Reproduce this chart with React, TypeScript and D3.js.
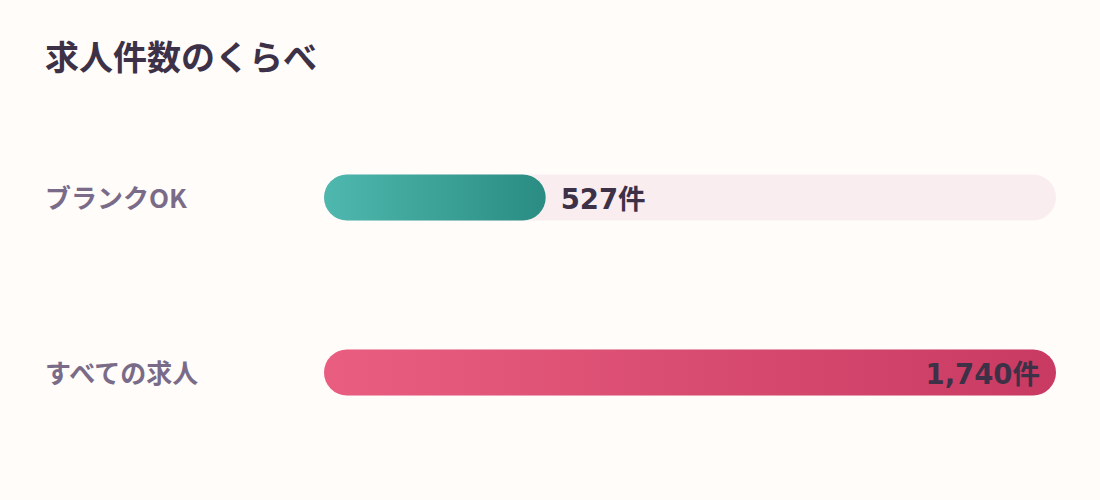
import React from "react";
import * as d3 from "d3";

const categories = ["ブランクOK", "すべての求人"];
const values = [527, 1740];
const title = "求人件数のくらべ";

const W = 1100, H = 500;
const CJK = "'Noto Sans CJK JP', 'Noto Sans', sans-serif";
const NUM = "'DejaVu Sans', 'Noto Sans CJK JP', sans-serif";

export default function App() {
  const x = d3.scaleLinear().domain([0, d3.max(values) as number]).range([324, 1056]);
  const y = d3.scaleBand<string>().domain(categories).range([110, 460]).paddingInner(0.74).paddingOuter(0.37);
  const bh = 46;
  const fmt = d3.format(",");
  const grads = [
    { id: "g0", from: "#4fb8ae", to: "#2a8c82" },
    { id: "g1", from: "#e95e80", to: "#c93a62" },
  ];
  return (
    <svg width={W} height={H} style={{ display: "block", position: "absolute", left: 0, top: 0 }}>
      <defs>
        {grads.map((g) => (
          <linearGradient key={g.id} id={g.id} x1="0" x2="1" y1="0" y2="0">
            <stop offset="0%" stopColor={g.from} />
            <stop offset="100%" stopColor={g.to} />
          </linearGradient>
        ))}
      </defs>
      <rect width={W} height={H} fill="#fffcfa" />
      <text x={45} y={70} fontFamily={CJK} fontWeight={700} fontSize={34} fill="#3d3148">{title}</text>
      {categories.map((c, i) => {
        const cy = (y(c) as number) + y.bandwidth() / 2;
        const top = cy - bh / 2;
        const w = x(values[i]) - x(0);
        const full = i === values.indexOf(d3.max(values) as number);
        return (
          <g key={c}>
            <text x={45} y={cy + 10} fontFamily={CJK} fontWeight={600} fontSize={26} fill="#7a6c88">{c}</text>
            <rect x={x(0)} y={top} width={x.range()[1] - x(0)} height={bh} rx={bh / 2} fill="#faedf0" />
            <rect x={x(0)} y={top} width={w} height={bh} rx={bh / 2} fill={`url(#g${i})`} />
            <text
              x={full ? x(values[i]) - 16 : x(values[i]) + 15}
              y={cy + 11}
              textAnchor={full ? "end" : "start"}
              fontFamily={NUM}
              fontWeight={700}
              fontSize={27.5}
              fill="#3d3148"
            >
              {fmt(values[i])}件
            </text>
          </g>
        );
      })}
    </svg>
  );
}
